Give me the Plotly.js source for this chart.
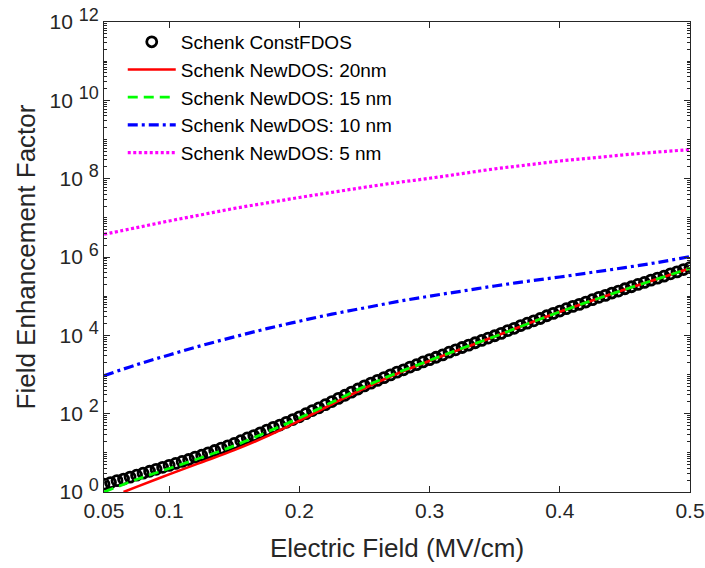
<!DOCTYPE html>
<html>
<head>
<meta charset="utf-8">
<script src="https://cdn.plot.ly/plotly-3.0.1.min.js"></script>
<style>html,body{margin:0;padding:0;background:#fff;}#chart{width:705px;height:568px;}</style>
</head>
<body>
<div id="chart"></div>
<script>
// Electric field (MV/cm) sample positions for the circle markers (step 0.005)
const circleField = [0.050,0.055,0.060,0.065,0.070,0.075,0.080,0.085,0.090,0.095,
  0.100,0.105,0.110,0.115,0.120,0.125,0.130,0.135,0.140,0.145,
  0.150,0.155,0.160,0.165,0.170,0.175,0.180,0.185,0.190,0.195,
  0.200,0.205,0.210,0.215,0.220,0.225,0.230,0.235,0.240,0.245,
  0.250,0.255,0.260,0.265,0.270,0.275,0.280,0.285,0.290,0.295,
  0.300,0.305,0.310,0.315,0.320,0.325,0.330,0.335,0.340,0.345,
  0.350,0.355,0.360,0.365,0.370,0.375,0.380,0.385,0.390,0.395,
  0.400,0.405,0.410,0.415,0.420,0.425,0.430,0.435,0.440,0.445,
  0.450,0.455,0.460,0.465,0.470,0.475,0.480,0.485,0.490,0.495,0.500];
// log10 of field enhancement factor, Schenk ConstFDOS
const constFdosLog10 = [0.20,0.24,0.29,0.33,0.38,0.43,0.48,0.53,0.58,0.63,
  0.68,0.73,0.78,0.83,0.89,0.94,1.00,1.06,1.12,1.18,
  1.24,1.31,1.38,1.44,1.51,1.58,1.65,1.71,1.78,1.85,
  1.92,2.00,2.08,2.15,2.23,2.31,2.39,2.47,2.55,2.63,
  2.71,2.78,2.85,2.92,2.99,3.06,3.12,3.19,3.25,3.32,
  3.38,3.44,3.50,3.57,3.63,3.69,3.75,3.81,3.87,3.93,
  3.99,4.05,4.12,4.18,4.25,4.31,4.37,4.43,4.50,4.56,
  4.62,4.68,4.74,4.79,4.85,4.91,4.97,5.02,5.08,5.13,
  5.19,5.24,5.30,5.35,5.41,5.46,5.51,5.57,5.62,5.68,5.73];

// Line series
const field20 = [0.065,0.075,0.100,0.125,0.150,0.175,0.200,0.225,0.250,0.275,0.300,0.325,0.350,0.375,0.400,0.425,0.450,0.475,0.500];
const newDos20Log10 = [0.00,0.13,0.45,0.76,1.07,1.42,1.82,2.24,2.65,3.02,3.35,3.66,3.97,4.29,4.60,4.89,5.17,5.44,5.71];

const fieldLine = [0.050,0.075,0.100,0.125,0.150,0.175,0.200,0.225,0.250,0.275,0.300,0.325,0.350,0.375,0.400,0.425,0.450,0.475,0.500];
const newDos15Log10 = [0.00,0.32,0.60,0.88,1.18,1.53,1.89,2.29,2.69,3.04,3.36,3.67,3.97,4.29,4.60,4.89,5.17,5.44,5.71];
const newDos10Log10 = [2.97,3.25,3.50,3.74,3.96,4.17,4.36,4.54,4.70,4.86,5.00,5.13,5.26,5.38,5.49,5.61,5.73,5.86,6.01];
const newDos5Log10  = [6.58,6.75,6.92,7.08,7.24,7.38,7.52,7.65,7.78,7.90,8.01,8.13,8.25,8.35,8.45,8.53,8.61,8.68,8.74];

const legendNames = ["Schenk ConstFDOS","Schenk NewDOS: 20nm","Schenk NewDOS: 15 nm","Schenk NewDOS: 10 nm","Schenk NewDOS: 5 nm"];
const yTickExp = [0,2,4,6,8,10,12];
const xTickVals = [0.05,0.1,0.2,0.3,0.4,0.5];
const xTickText = ['0.05','0.1','0.2','0.3','0.4','0.5'];

const pow10 = a => a.map(v => Math.pow(10, v));

const traces = [
  {x: circleField, y: pow10(constFdosLog10), name: legendNames[0], mode: 'markers', type: 'scatter',
   marker: {symbol: 'circle-open', size: 10, color: '#000', line: {width: 2.8, color: '#000'}}},
  {x: field20, y: pow10(newDos20Log10), name: legendNames[1], mode: 'lines', type: 'scatter',
   line: {color: '#ff0000', width: 2.6, shape: 'spline'}},
  {x: fieldLine, y: pow10(newDos15Log10), name: legendNames[2], mode: 'lines', type: 'scatter',
   line: {color: '#00ff00', width: 2.8, dash: '10px,6px', shape: 'spline'}},
  {x: fieldLine, y: pow10(newDos10Log10), name: legendNames[3], mode: 'lines', type: 'scatter',
   line: {color: '#0000ff', width: 3.2, dash: '10px,4px,3px,4px', shape: 'spline'}},
  {x: fieldLine, y: pow10(newDos5Log10), name: legendNames[4], mode: 'lines', type: 'scatter',
   line: {color: '#ff00ff', width: 3.2, dash: '3px,2.5px', shape: 'spline'}}
];

const minorVals = [];
for (let e = 0; e < 12; e++) for (let m = 2; m <= 10; m++) minorVals.push(m * Math.pow(10, e));

const axisColor = '#262626';
const layout = {
  width: 705, height: 568,
  margin: {l: 104, r: 15, t: 22, b: 76},
  paper_bgcolor: '#fff', plot_bgcolor: '#fff',
  font: {family: '"Liberation Sans", Arial, sans-serif', color: axisColor},
  showlegend: true,
  legend: {x: 0.032, y: 0.998, xanchor: 'left', yanchor: 'top', bgcolor: 'rgba(0,0,0,0)',
           font: {size: 19, color: '#000'}, tracegroupgap: 0, itemwidth: 48},
  xaxis: {
    range: [0.05, 0.5], tickmode: 'array', tickvals: xTickVals, ticktext: xTickText,
    ticks: 'inside', ticklen: 6, tickcolor: axisColor, tickwidth: 1,
    showline: true, linecolor: axisColor, linewidth: 1, mirror: 'ticks',
    showgrid: false, zeroline: false,
    tickfont: {size: 21, color: axisColor},
    title: {text: 'Electric Field (MV/cm)', font: {size: 26, color: axisColor}, standoff: 17}
  },
  yaxis: {
    type: 'log', range: [0, 12], tickmode: 'array',
    tickvals: yTickExp.map(e => Math.pow(10, e)),
    ticktext: yTickExp.map(e => '10&nbsp;<sup><span style="font-size:18px">' + e + '</span></sup>'),
    ticks: 'inside', ticklen: 6, tickcolor: axisColor, tickwidth: 1,
    minor: {tickmode: 'array', tickvals: minorVals, ticks: 'inside', ticklen: 3, tickcolor: axisColor},
    showline: true, linecolor: axisColor, linewidth: 1, mirror: 'ticks',
    showgrid: false, zeroline: false,
    tickfont: {size: 21, color: axisColor},
    title: {text: 'Field Enhancement Factor', font: {size: 26, color: axisColor}, standoff: 6}
  }
};

Plotly.newPlot('chart', traces, layout, {displayModeBar: false, staticPlot: true});
</script>
</body>
</html>
